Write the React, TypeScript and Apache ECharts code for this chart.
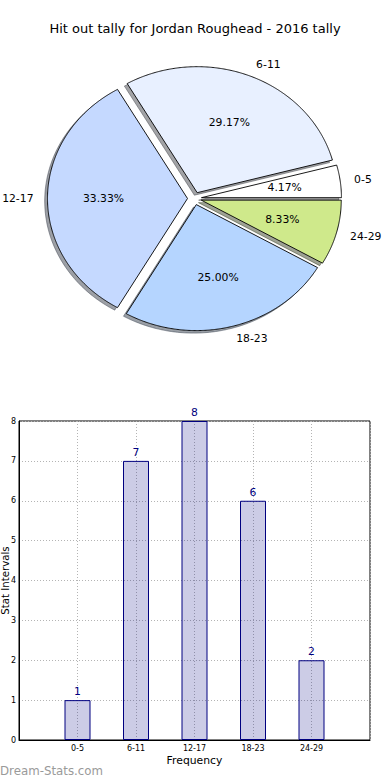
import React, { useEffect, useRef } from 'react';
import * as echarts from 'echarts';

const titleText = 'Hit out tally for Jordan Roughead - 2016 tally';
const categories = ['0-5', '6-11', '12-17', '18-23', '24-29'];
const counts = [1, 7, 8, 6, 2];
const sliceColors = ['#ffffff', '#e8f0ff', '#c5d9ff', '#b5d5ff', '#cfe98b'];
const xAxisName = 'Frequency';
const yAxisName = 'Stat Intervals';
const watermark = 'Dream-Stats.com';

const FONT = 'DejaVu Sans';
const EXPLODE = 0.05;
const total = counts.reduce((a, b) => a + b, 0);

function geom(i: number) {
  let start = 0;
  for (let j = 0; j < i; j++) start += counts[j];
  const t1 = (start / total) * 2 * Math.PI;
  const t2 = ((start + counts[i]) / total) * 2 * Math.PI;
  const mid = (t1 + t2) / 2;
  return { t1, t2, mid, cx: EXPLODE * Math.cos(mid), cy: EXPLODE * Math.sin(mid) };
}

function wedgePoints(api: any, i: number, dx: number, dy: number) {
  const g = geom(i);
  const pts: number[][] = [api.coord([g.cx + dx, g.cy + dy])];
  const n = Math.max(4, Math.ceil(((g.t2 - g.t1) * 180) / Math.PI / 0.5));
  for (let k = 0; k <= n; k++) {
    const t = g.t1 + ((g.t2 - g.t1) * k) / n;
    pts.push(api.coord([g.cx + dx + Math.cos(t), g.cy + dy + Math.sin(t)]));
  }
  return pts;
}

function shadowColor(hex: string) {
  const r = parseInt(hex.slice(1, 3), 16);
  const g = parseInt(hex.slice(3, 5), 16);
  const b = parseInt(hex.slice(5, 7), 16);
  return `rgba(${Math.round(r * 0.3)},${Math.round(g * 0.3)},${Math.round(b * 0.3)},0.5)`;
}

export default function App() {
  const ref = useRef<HTMLDivElement>(null);
  useEffect(() => {
    document.body.style.margin = '0';
    const chart = echarts.init(ref.current!, null, { renderer: 'svg' });
    const pieData = counts.map((v, i) => ({ name: categories[i], value: [i, v] }));
    chart.setOption({
      animation: false,
      backgroundColor: '#ffffff',
      title: {
        text: titleText,
        left: 'center',
        top: 17,
        textStyle: { fontFamily: FONT, fontSize: 13, fontWeight: 'normal', color: '#000' },
      },
      graphic: [
        {
          type: 'text',
          left: 0,
          top: 765,
          style: { text: watermark, fontFamily: FONT, fontSize: 11.8, fill: '#9a9a9a', fontWeight: 'normal' },
        },
      ],
      grid: [
        { left: 19.5, top: 41, width: 350, height: 315, show: false, outerBoundsMode: 'none', containLabel: false },
        {
          left: 19,
          top: 421,
          width: 351,
          height: 319,
          show: true,
          borderColor: '#000',
          borderWidth: 1,
          backgroundColor: 'transparent',
          outerBoundsMode: 'none',
          containLabel: false,
        },
      ],
      xAxis: [
        { type: 'value', gridIndex: 0, min: -1.25, max: 1.25, show: false },
        {
          type: 'value',
          gridIndex: 1,
          min: 0,
          max: 6,
          interval: 1,
          name: xAxisName,
          nameLocation: 'middle',
          nameGap: 15,
          nameMoveOverlap: false,
          nameTextStyle: { fontFamily: FONT, fontSize: 10.8, color: '#000' },
          axisLine: { show: true, lineStyle: { color: '#000', width: 1 } },
          axisTick: { show: false },
          axisLabel: {
            fontFamily: FONT,
            fontSize: 8,
            color: '#000',
            margin: 4,
            formatter: (v: number) => categories[v - 1] ?? '',
          },
          splitLine: { show: true, lineStyle: { color: '#b4b4b4', type: [1, 2], width: 1 } },
        },
      ],
      yAxis: [
        { type: 'value', gridIndex: 0, min: -1.25, max: 1.25, show: false },
        {
          type: 'value',
          gridIndex: 1,
          min: 0,
          max: 8,
          interval: 1,
          name: yAxisName,
          nameLocation: 'middle',
          nameRotate: 90,
          nameGap: 9,
          nameMoveOverlap: false,
          nameTextStyle: { fontFamily: FONT, fontSize: 10.2, color: '#000' },
          axisLine: { show: true, lineStyle: { color: '#000', width: 1 } },
          axisTick: { show: false },
          axisLabel: { fontFamily: FONT, fontSize: 8, color: '#000', margin: 3 },
          splitLine: { show: true, lineStyle: { color: '#b4b4b4', type: [1, 2], width: 1 } },
        },
      ],
      series: [
        {
          type: 'custom',
          name: 'shadow',
          xAxisIndex: 0,
          yAxisIndex: 0,
          z: 1,
          silent: true,
          clip: false,
          data: pieData,
          renderItem: (params: any, api: any) => {
            const i = params.dataIndex;
            const c = shadowColor(sliceColors[i]);
            return {
              type: 'polygon',
              shape: { points: wedgePoints(api, i, -0.02, -0.02) },
              style: { fill: c, stroke: c, lineWidth: 1 },
            };
          },
        },
        {
          type: 'custom',
          name: 'pie',
          xAxisIndex: 0,
          yAxisIndex: 0,
          z: 2,
          silent: true,
          clip: false,
          data: pieData,
          renderItem: (params: any, api: any) => {
            const i = params.dataIndex;
            const g = geom(i);
            const lp = api.coord([(1.1 + EXPLODE) * Math.cos(g.mid), (1.1 + EXPLODE) * Math.sin(g.mid)]);
            const pp = api.coord([(0.6 + EXPLODE) * Math.cos(g.mid), (0.6 + EXPLODE) * Math.sin(g.mid)]);
            const pct = ((counts[i] / total) * 100).toFixed(2) + '%';
            return {
              type: 'group',
              children: [
                {
                  type: 'polygon',
                  shape: { points: wedgePoints(api, i, 0, 0) },
                  style: { fill: sliceColors[i], stroke: '#000', lineWidth: 0.9 },
                },
                {
                  type: 'text',
                  x: lp[0],
                  y: lp[1],
                  style: {
                    text: categories[i],
                    fontFamily: FONT,
                    fontSize: 10.8,
                    fill: '#000',
                    align: Math.cos(g.mid) > 0 ? 'left' : 'right',
                    verticalAlign: 'middle',
                  },
                },
                {
                  type: 'text',
                  x: pp[0],
                  y: pp[1],
                  style: {
                    text: pct,
                    fontFamily: FONT,
                    fontSize: 10.8,
                    fill: '#000',
                    align: 'center',
                    verticalAlign: 'middle',
                  },
                },
              ],
            };
          },
        },
        {
          type: 'bar',
          xAxisIndex: 1,
          yAxisIndex: 1,
          barWidth: 26,
          data: counts.map((v, i) => [i + 1, v]),
          itemStyle: { color: 'rgba(0,0,128,0.2)', borderColor: '#000080', borderWidth: 1 },
          label: {
            show: true,
            position: 'top',
            distance: 3,
            fontFamily: FONT,
            fontSize: 10.8,
            color: '#000080',
            formatter: (p: any) => String(p.value[1]),
          },
        },
      ],
    });
    return () => chart.dispose();
  }, []);
  return <div ref={ref} style={{ position: 'fixed', left: 0, top: 0, width: 390, height: 780 }} />;
}
